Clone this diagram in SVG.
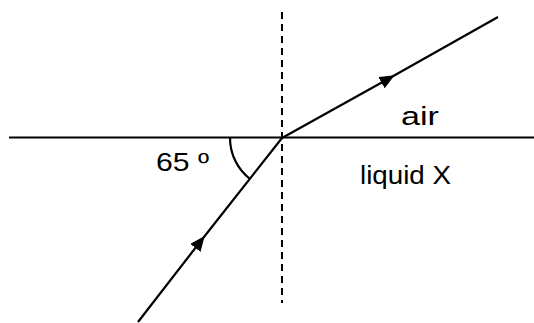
<svg xmlns="http://www.w3.org/2000/svg" width="534" height="323" viewBox="0 0 534 323">
<style>
.ln{stroke:#000;stroke-width:2.2;fill:none}
.dash{stroke:#000;stroke-width:2;fill:none;stroke-dasharray:7 5}
.lbl{font-family:"Liberation Sans",Arial,sans-serif;font-size:26px;fill:#000}
</style>
<defs>
<marker id="arr" viewBox="0 0 10 10" refX="5" refY="5" markerWidth="15" markerHeight="13" markerUnits="userSpaceOnUse" orient="auto" preserveAspectRatio="none">
<path d="M0,0 L10,5 L0,10 z" fill="#000"/>
</marker>
</defs>
<rect width="534" height="323" fill="#fff"/>
<g id="surface"><line class="ln" x1="9" y1="137.5" x2="534" y2="137.5"/></g>
<g id="normal"><line class="dash" x1="282" y1="12" x2="282" y2="303"/></g>
<g id="connectors">
<path class="ln" d="M138,322 L200,242 L282,138" marker-mid="url(#arr)"/>
<path class="ln" d="M282,138 L388,79 L498,17" marker-mid="url(#arr)"/>
<path class="ln" d="M230,138 A52,52 0 0 0 250,179"/>
</g>
<g id="labels">
<text class="lbl" x="156" y="171" textLength="53" lengthAdjust="spacingAndGlyphs">65 º</text>
<text class="lbl" x="401" y="125" textLength="38" lengthAdjust="spacingAndGlyphs">air</text>
<text class="lbl" x="360" y="184" textLength="91" lengthAdjust="spacingAndGlyphs">liquid X</text>
</g>
</svg>
